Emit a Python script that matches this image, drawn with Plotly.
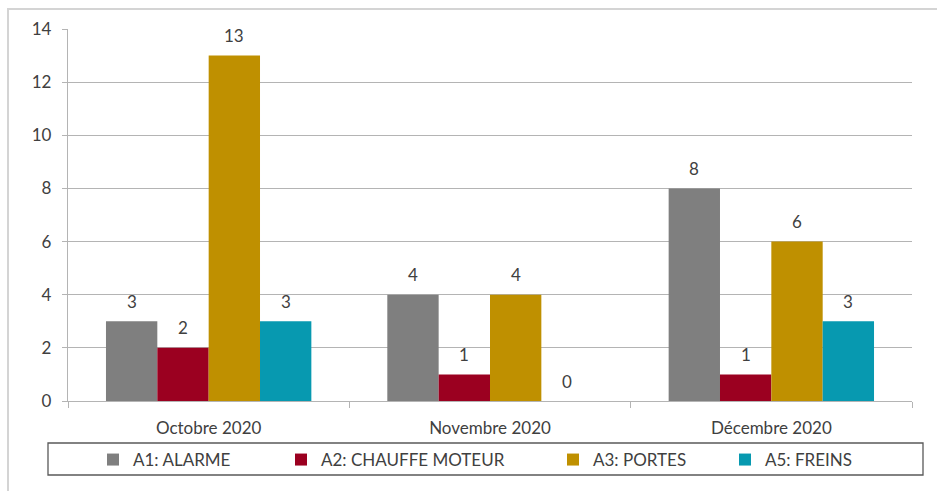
import plotly.graph_objects as go

# Monthly incident counts per fault category
months = ["Octobre 2020", "Novembre 2020", "Décembre 2020"]
series_names = ["A1: ALARME", "A2: CHAUFFE MOTEUR", "A3: PORTES", "A5: FREINS"]
alarme = [3, 4, 8]
chauffe_moteur = [2, 1, 1]
portes = [13, 4, 6]
freins = [3, 0, 3]
y_ticks = [0, 2, 4, 6, 8, 10, 12, 14]

series_values = [alarme, chauffe_moteur, portes, freins]
colors = ["#7f7f7f", "#9b0020", "#bf9000", "#0799b0"]

# Layout geometry (pixels)
W, H = 937, 491
ML, MR, MT, MB = 68, 25, 29, 90
PW = W - ML - MR
PH = H - MT - MB
BARGAP = 0.27

FONT = "Lato"
TXT = "#404040"
GRID = "#b4b4b4"


def px_x(px):
    return (px - ML) / PW


def px_y(py):
    return (H - MB - py) / PH


fig = go.Figure()
legend_ids = ["legend", "legend2", "legend3", "legend4"]
for name, vals, col, lg in zip(series_names, series_values, colors, legend_ids):
    fig.add_trace(go.Bar(
        x=months, y=vals, name=name, marker_color=col,
        marker_line_width=0, legend=lg, showlegend=True,
    ))

# value labels above each bar
n = len(series_values)
bar_w = (1 - BARGAP) / n
annotations = []
for j, vals in enumerate(series_values):
    for i, v in enumerate(vals):
        annotations.append(dict(
            x=i + (j - (n - 1) / 2) * bar_w, y=v, xref="x", yref="y",
            text=str(v), showarrow=False, yshift=20,
            font=dict(family=FONT, size=17, color=TXT),
        ))

# one legend per entry so each can sit at its own spot on the strip
legend_text_px = [93, 281, 553, 725]
legend_y = px_y(460)
legend_layout = {}
for lg, xpx in zip(legend_ids, legend_text_px):
    legend_layout[lg] = dict(
        x=px_x(xpx), xanchor="left", y=legend_y, yanchor="middle",
        orientation="h", bgcolor="rgba(0,0,0,0)", borderwidth=0,
        font=dict(family=FONT, size=17, color=TXT),
    )

shapes = [
    # outer chart frame
    dict(type="rect", xref="paper", yref="paper",
         x0=px_x(8), x1=px_x(W + 20), y0=px_y(H + 20), y1=px_y(9),
         line=dict(color="#d4d4d4", width=2), fillcolor="rgba(0,0,0,0)",
         layer="below"),
    # legend box
    dict(type="rect", xref="paper", yref="paper",
         x0=px_x(48), x1=px_x(923), y0=px_y(475), y1=px_y(443),
         line=dict(color="#595959", width=1.3), fillcolor="rgba(0,0,0,0)"),
]

fig.update_layout(
    width=W, height=H,
    margin=dict(l=ML, r=MR, t=MT, b=MB),
    paper_bgcolor="white", plot_bgcolor="white",
    barmode="group", bargap=BARGAP, bargroupgap=0,
    font=dict(family=FONT, color=TXT),
    showlegend=True,
    annotations=annotations,
    shapes=shapes,
    **legend_layout,
)
fig.update_xaxes(
    type="category", showline=True, linecolor=GRID, linewidth=1.3,
    ticks="outside", tickson="boundaries", ticklen=6, tickcolor=GRID,
    tickfont=dict(family=FONT, size=17, color=TXT),
    ticklabelstandoff=11, showgrid=False,
)
fig.update_yaxes(
    range=[0, 14], tickvals=y_ticks, showgrid=True, gridcolor=GRID,
    gridwidth=1.3, showline=True, linecolor=GRID, linewidth=1.3,
    ticks="outside", ticklen=5, tickcolor=GRID, zeroline=False,
    tickfont=dict(family=FONT, size=17, color=TXT),
    ticklabelstandoff=7,
)

fig.write_html("out.html")
